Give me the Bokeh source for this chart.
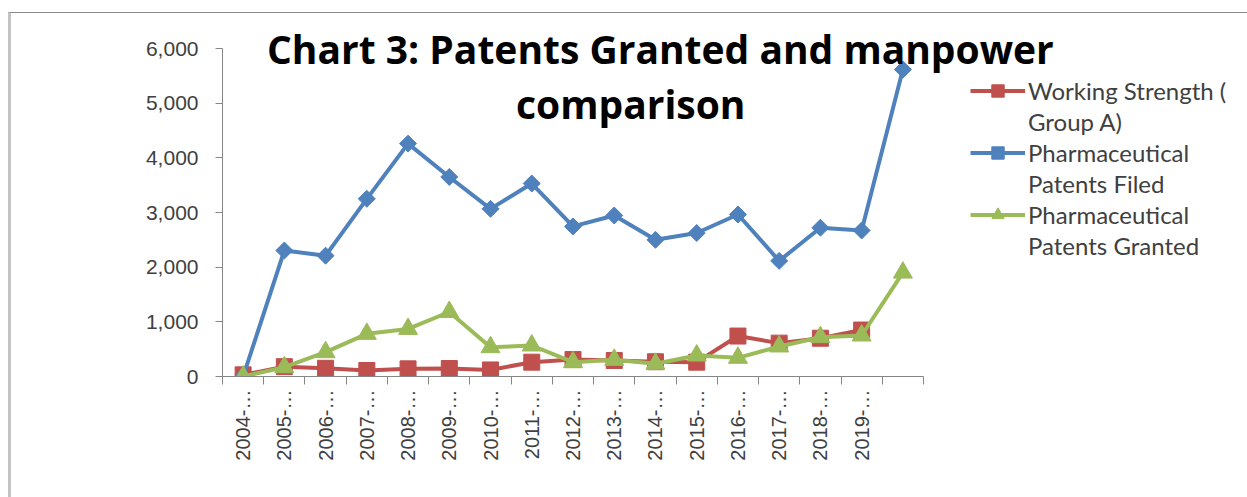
import math
from bokeh.plotting import figure
from bokeh.models import (Range1d, FixedTicker, Legend, LegendItem, Label,
                          NumeralTickFormatter, LinearAxis)
from bokeh.embed import file_html
from bokeh.resources import INLINE

# ---- data -------------------------------------------------------------
categories = ["2004-…", "2005-…", "2006-…", "2007-…", "2008-…",
              "2009-…", "2010-…", "2011-…", "2012-…", "2013-…",
              "2014-…", "2015-…", "2016-…", "2017-…", "2018-…",
              "2019-…", ""]
working_strength = [30, 180, 150, 110, 140, 146, 120, 262, 310, 293,
                    270, 262, 740, 610, 700, 850]
patents_filed = [0, 2305, 2210, 3250, 4260, 3650, 3067, 3530, 2745, 2945,
                 2500, 2625, 2963, 2115, 2722, 2671, 5615]
patents_granted = [0, 170, 445, 780, 870, 1180, 536, 567, 262, 305,
                   232, 384, 342, 549, 719, 750, 1900]
y_ticks = [0, 1000, 2000, 3000, 4000, 5000, 6000]
# legend labels, wrapped as in the original (one list entry per line)
series_names = [["Working Strength (", "Group A)"],
                ["Pharmaceutical", "Patents Filed"],
                ["Pharmaceutical", "Patents Granted"]]
title_lines = ["Chart 3: Patents Granted and manpower", "comparison"]

# ---- figure -----------------------------------------------------------
xs = list(range(1, len(categories) + 1))
AX = "#868686"
TXT = "#404040"
x_lo = 0.5
x_hi = len(categories) + 0.5
px_per_x = 701 / (x_hi - x_lo)
units_per_py = 6000 / 328.0

FW, FH = 1025, 363
p = figure(frame_width=FW, frame_height=FH,
           min_border_left=211, min_border_right=0,
           min_border_top=0, min_border_bottom=121,
           x_range=Range1d(x_lo, x_lo + FW / px_per_x),
           y_range=Range1d(0, 6000 + 35 * units_per_py),
           output_backend="svg", toolbar_location=None,
           x_axis_type=None, y_axis_type=None)
p.outline_line_color = None
p.xgrid.visible = False
p.ygrid.visible = False
p.styles = {"margin-left": "8px", "margin-top": "12px",
            "border-top": "1px solid #8a8a8a",
            "border-left": "3px solid #c4c4c4"}

yaxis = LinearAxis(ticker=FixedTicker(ticks=y_ticks, minor_ticks=[]),
                   formatter=NumeralTickFormatter(format="0,0"),
                   bounds=(0, 6000))
yaxis.axis_line_color = AX
yaxis.major_tick_line_color = AX
yaxis.major_tick_out = 7
yaxis.major_tick_in = 0
yaxis.minor_tick_line_color = None
yaxis.major_label_text_font = "Liberation Sans"
yaxis.major_label_text_font_size = "21px"
yaxis.major_label_text_color = TXT
yaxis.major_label_standoff = 17
p.add_layout(yaxis, "left")

xaxis = LinearAxis(ticker=FixedTicker(ticks=xs,
                                      minor_ticks=[x - 0.5 for x in xs] + [xs[-1] + 0.5]),
                   bounds=(x_lo, x_hi))
xaxis.major_label_overrides = {x: c for x, c in zip(xs, categories)}
xaxis.axis_line_color = AX
xaxis.major_tick_line_color = None
xaxis.major_tick_out = 0
xaxis.major_tick_in = 0
xaxis.minor_tick_line_color = AX
xaxis.minor_tick_out = 8
xaxis.minor_tick_in = 0
xaxis.major_label_orientation = math.pi / 2
xaxis.major_label_text_font = "Liberation Sans"
xaxis.major_label_text_font_size = "20px"
xaxis.major_label_text_color = TXT
xaxis.major_label_standoff = 5
p.add_layout(xaxis, "below")

RED, BLUE, GREEN = "#C0504D", "#4F81BD", "#9BBB59"
LW = 4

n_ws = len(working_strength)
r_line = p.line(xs[:n_ws], working_strength, line_color=RED, line_width=LW)
r_mark = p.scatter(xs[:n_ws], working_strength, marker="square",
                   size=16, fill_color=RED, line_color=RED)
b_line = p.line(xs, patents_filed, line_color=BLUE, line_width=LW)
b_mark = p.scatter(xs, patents_filed, marker="square", angle=math.pi / 4,
                   size=12, fill_color=BLUE, line_color=BLUE)
g_line = p.line(xs, patents_granted, line_color=GREEN, line_width=LW)
g_mark = p.scatter(xs, patents_granted, marker="triangle", size=19,
                   fill_color=GREEN, line_color=GREEN)

# an empty, invisible renderer carries the second (wrapped) line of each label
blank = p.scatter([], [], alpha=0)

items = []
for (first, second), rends in zip(series_names,
                                  [[r_line, r_mark], [b_line, b_mark], [g_line, g_mark]]):
    items.append(LegendItem(label=first, renderers=rends))
    items.append(LegendItem(label=second, renderers=[blank]))

legend = Legend(items=items, location=(748, 115))
legend.border_line_color = None
legend.background_fill_alpha = 0
legend.padding = 0
legend.margin = 0
legend.spacing = 0
legend.glyph_width = 55
legend.glyph_height = 31
legend.label_height = 31
legend.label_standoff = 3
legend.label_text_font = "Lato"
legend.label_text_font_size = "24px"
legend.label_text_color = TXT
p.add_layout(legend, "center")

for text, xc, yc in [(title_lines[0], 11.12, 6000), (title_lines[1], 10.4, 4994)]:
    p.add_layout(Label(x=xc, y=yc, text=text, text_align="center",
                       text_baseline="middle", text_font="Open Sans",
                       text_font_style="bold", text_font_size="39px",
                       text_color="#000000"))

open("out.html", "w").write(file_html(p, INLINE))
